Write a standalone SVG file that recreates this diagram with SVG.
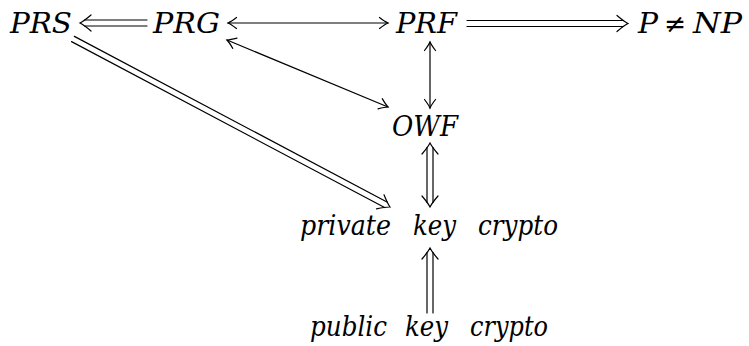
<svg xmlns="http://www.w3.org/2000/svg" xmlns:xlink="http://www.w3.org/1999/xlink" width="749" height="346" viewBox="0 0 749 346">
<style>
.t{font-family:"DejaVu Serif","Liberation Serif",serif;font-style:italic;font-size:27px;fill:#000}
.u{font-style:normal}
.ln{stroke:#000;stroke-width:1.2;fill:none;stroke-linecap:round}
</style>
<defs>
<marker id="hd" viewBox="-10 -7 12 14" refX="0" refY="0" markerWidth="12" markerHeight="14" markerUnits="userSpaceOnUse" orient="auto-start-reverse">
<path d="M -8.5,-5.5 Q -3,-1.3 0,0 Q -3,1.3 -8.5,5.5" stroke="#000" stroke-width="1.2" fill="none" stroke-linecap="round"/>
</marker>
<path id="dh" d="M -11,-8 Q -4,-2 0,0 Q -4,2 -11,8" class="ln"/>
</defs>
<rect width="749" height="346" fill="#fff"/>
<g id="n-prs"><text class="t" x="10" y="33" textLength="62" lengthAdjust="spacingAndGlyphs">PRS</text></g>
<g id="n-prg"><text class="t" x="153" y="33" textLength="67" lengthAdjust="spacingAndGlyphs">PRG</text></g>
<g id="n-prf"><text class="t" x="396" y="33" textLength="61" lengthAdjust="spacingAndGlyphs">PRF</text></g>
<g id="n-pnp"><text class="t" x="638" y="33" textLength="20" lengthAdjust="spacingAndGlyphs">P</text><text class="t u" x="664" y="33" textLength="22" lengthAdjust="spacingAndGlyphs">≠</text><text class="t" x="693" y="33" textLength="49" lengthAdjust="spacingAndGlyphs">NP</text></g>
<g id="n-owf"><text class="t" x="392" y="136" textLength="66" lengthAdjust="spacingAndGlyphs">OWF</text></g>
<g id="n-priv"><text class="t" x="300" y="235" textLength="91" lengthAdjust="spacingAndGlyphs">private</text><text class="t" x="413" y="235" textLength="43" lengthAdjust="spacingAndGlyphs">key</text><text class="t" x="478" y="235" textLength="80" lengthAdjust="spacingAndGlyphs">crypto</text></g>
<g id="n-pub"><text class="t" x="310" y="336" textLength="77" lengthAdjust="spacingAndGlyphs">public</text><text class="t" x="405" y="336" textLength="43" lengthAdjust="spacingAndGlyphs">key</text><text class="t" x="470" y="336" textLength="78" lengthAdjust="spacingAndGlyphs">crypto</text></g>
<g id="connectors">
<g transform="translate(80,23) rotate(180)"><line class="ln" x1="-67" y1="-3" x2="-4.5" y2="-3"/><line class="ln" x1="-67" y1="3" x2="-4.5" y2="3"/><use xlink:href="#dh"/></g>
<line class="ln" x1="228" y1="23" x2="388" y2="23" marker-start="url(#hd)" marker-end="url(#hd)"/>
<g transform="translate(628,23.5)"><line class="ln" x1="-161" y1="-3" x2="-4.5" y2="-3"/><line class="ln" x1="-161" y1="3" x2="-4.5" y2="3"/><use xlink:href="#dh"/></g>
<line class="ln" x1="430" y1="42" x2="430" y2="108" marker-start="url(#hd)" marker-end="url(#hd)"/>
<line class="ln" x1="227" y1="40" x2="388" y2="107" marker-start="url(#hd)" marker-end="url(#hd)"/>
<g transform="translate(390,207) rotate(27.92)"><line class="ln" x1="-358.8" y1="-3" x2="-4.5" y2="-3"/><line class="ln" x1="-358.8" y1="3" x2="-4.5" y2="3"/><use xlink:href="#dh"/></g>
<g transform="translate(430,207) rotate(90)"><line class="ln" x1="-59.5" y1="-3" x2="-4.5" y2="-3"/><line class="ln" x1="-59.5" y1="3" x2="-4.5" y2="3"/><use xlink:href="#dh"/></g>
<g transform="translate(430,143) rotate(-90)"><use xlink:href="#dh"/></g>
<g transform="translate(430,248) rotate(-90)"><line class="ln" x1="-65" y1="-3" x2="-4.5" y2="-3"/><line class="ln" x1="-65" y1="3" x2="-4.5" y2="3"/><use xlink:href="#dh"/></g>
</g>
</svg>
